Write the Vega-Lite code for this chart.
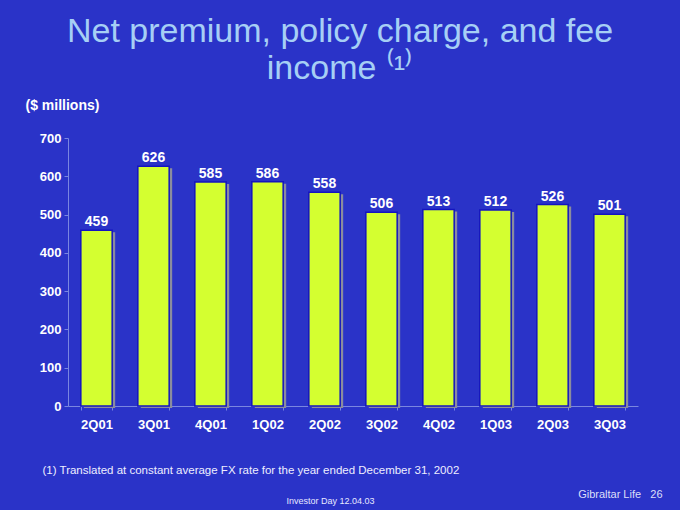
{
  "$schema": "https://vega.github.io/schema/vega-lite/v6.json",
  "width": 570,
  "height": 268,
  "autosize": "none",
  "padding": {"left": 68, "top": 138, "right": 42, "bottom": 104},
  "background": "#2a33c8",
  "title": {
    "text": ["Net premium, policy charge, and fee", "income \u207d\u00b9\u207e"],
    "font": "Liberation Sans",
    "fontSize": 34,
    "fontWeight": "normal",
    "color": "#a6cff5",
    "lineHeight": 37,
    "anchor": "middle",
    "frame": "group",
    "dx": -13,
    "offset": 12
  },
  "config": {
    "view": {"stroke": null},
    "font": "Liberation Sans"
  },
  "data": {
    "values": [
      {"quarter": "2Q01", "value": 459},
      {"quarter": "3Q01", "value": 626},
      {"quarter": "4Q01", "value": 585},
      {"quarter": "1Q02", "value": 586},
      {"quarter": "2Q02", "value": 558},
      {"quarter": "3Q02", "value": 506},
      {"quarter": "4Q02", "value": 513},
      {"quarter": "1Q03", "value": 512},
      {"quarter": "2Q03", "value": 526},
      {"quarter": "3Q03", "value": 501}
    ]
  },
  "layer": [
    {
      "mark": {"type": "bar", "color": "#8a8c9e", "xOffset": 3, "yOffset": 2},
      "encoding": {
        "x": {"field": "quarter", "type": "nominal", "sort": null, "axis": null,
              "scale": {"paddingInner": 0.45, "paddingOuter": 0.225}},
        "y": {"field": "value", "type": "quantitative", "axis": null,
              "scale": {"domain": [0, 700]}}
      }
    },
    {
      "mark": {"type": "bar", "color": "#d4ff30", "stroke": "#1414c0", "strokeWidth": 1.5},
      "encoding": {
        "x": {
          "field": "quarter", "type": "nominal", "sort": null,
          "axis": {
            "orient": "bottom",
            "labelAngle": 0,
            "labelColor": "#ffffff",
            "labelFont": "Liberation Sans",
            "labelFontSize": 13,
            "labelFontWeight": "bold",
            "labelPadding": 8,
            "tickBand": "extent",
            "tickSize": 4,
            "tickColor": "#7a86e0",
            "domainColor": "#7a86e0",
            "title": "(1) Translated at constant average FX rate for the year ended December 31, 2002",
            "titleFont": "Liberation Sans",
            "titleFontSize": 11.5,
            "titleFontWeight": "normal",
            "titleColor": "#eeeeff",
            "titleAlign": "left",
            "titleBaseline": "middle",
            "titleX": -26,
            "titleY": 64
          }
        },
        "y": {
          "field": "value", "type": "quantitative",
          "axis": {
            "orient": "left",
            "values": [0, 100, 200, 300, 400, 500, 600, 700],
            "grid": false,
            "labelColor": "#ffffff",
            "labelFont": "Liberation Sans",
            "labelFontSize": 13,
            "labelFontWeight": "bold",
            "labelPadding": 3,
            "tickSize": 4,
            "tickColor": "#7a86e0",
            "domainColor": "#7a86e0",
            "title": "($ millions)",
            "titleFont": "Liberation Sans",
            "titleFontSize": 14,
            "titleFontWeight": "bold",
            "titleColor": "#ffffff",
            "titleAngle": 0,
            "titleAlign": "left",
            "titleBaseline": "middle",
            "titleX": -43,
            "titleY": -33
          }
        }
      }
    },
    {
      "mark": {"type": "text", "color": "#ffffff", "font": "Liberation Sans", "fontSize": 14,
               "fontWeight": "bold", "baseline": "alphabetic", "dy": -4},
      "encoding": {
        "x": {
          "field": "quarter", "type": "nominal", "sort": null,
          "axis": {
            "orient": "top", "labels": false, "ticks": false, "domain": false,
            "title": "Investor Day 12.04.03",
            "titleFont": "Liberation Sans",
            "titleFontSize": 9,
            "titleFontWeight": "normal",
            "titleColor": "#e6e8ff",
            "titleAlign": "center",
            "titleBaseline": "middle",
            "titleX": 262,
            "titleY": 362
          }
        },
        "y": {
          "field": "value", "type": "quantitative",
          "axis": {
            "orient": "right", "labels": false, "ticks": false, "domain": false, "grid": false,
            "title": "Gibraltar Life\u00a0\u00a0\u00a026",
            "titleFont": "Liberation Sans",
            "titleFontSize": 11,
            "titleFontWeight": "normal",
            "titleColor": "#dcdff8",
            "titleAngle": 0,
            "titleAlign": "right",
            "titleBaseline": "middle",
            "titleX": 24,
            "titleY": 356
          }
        },
        "text": {"field": "value", "type": "quantitative"}
      }
    }
  ],
  "resolve": {"axis": {"x": "independent", "y": "independent"}}
}
